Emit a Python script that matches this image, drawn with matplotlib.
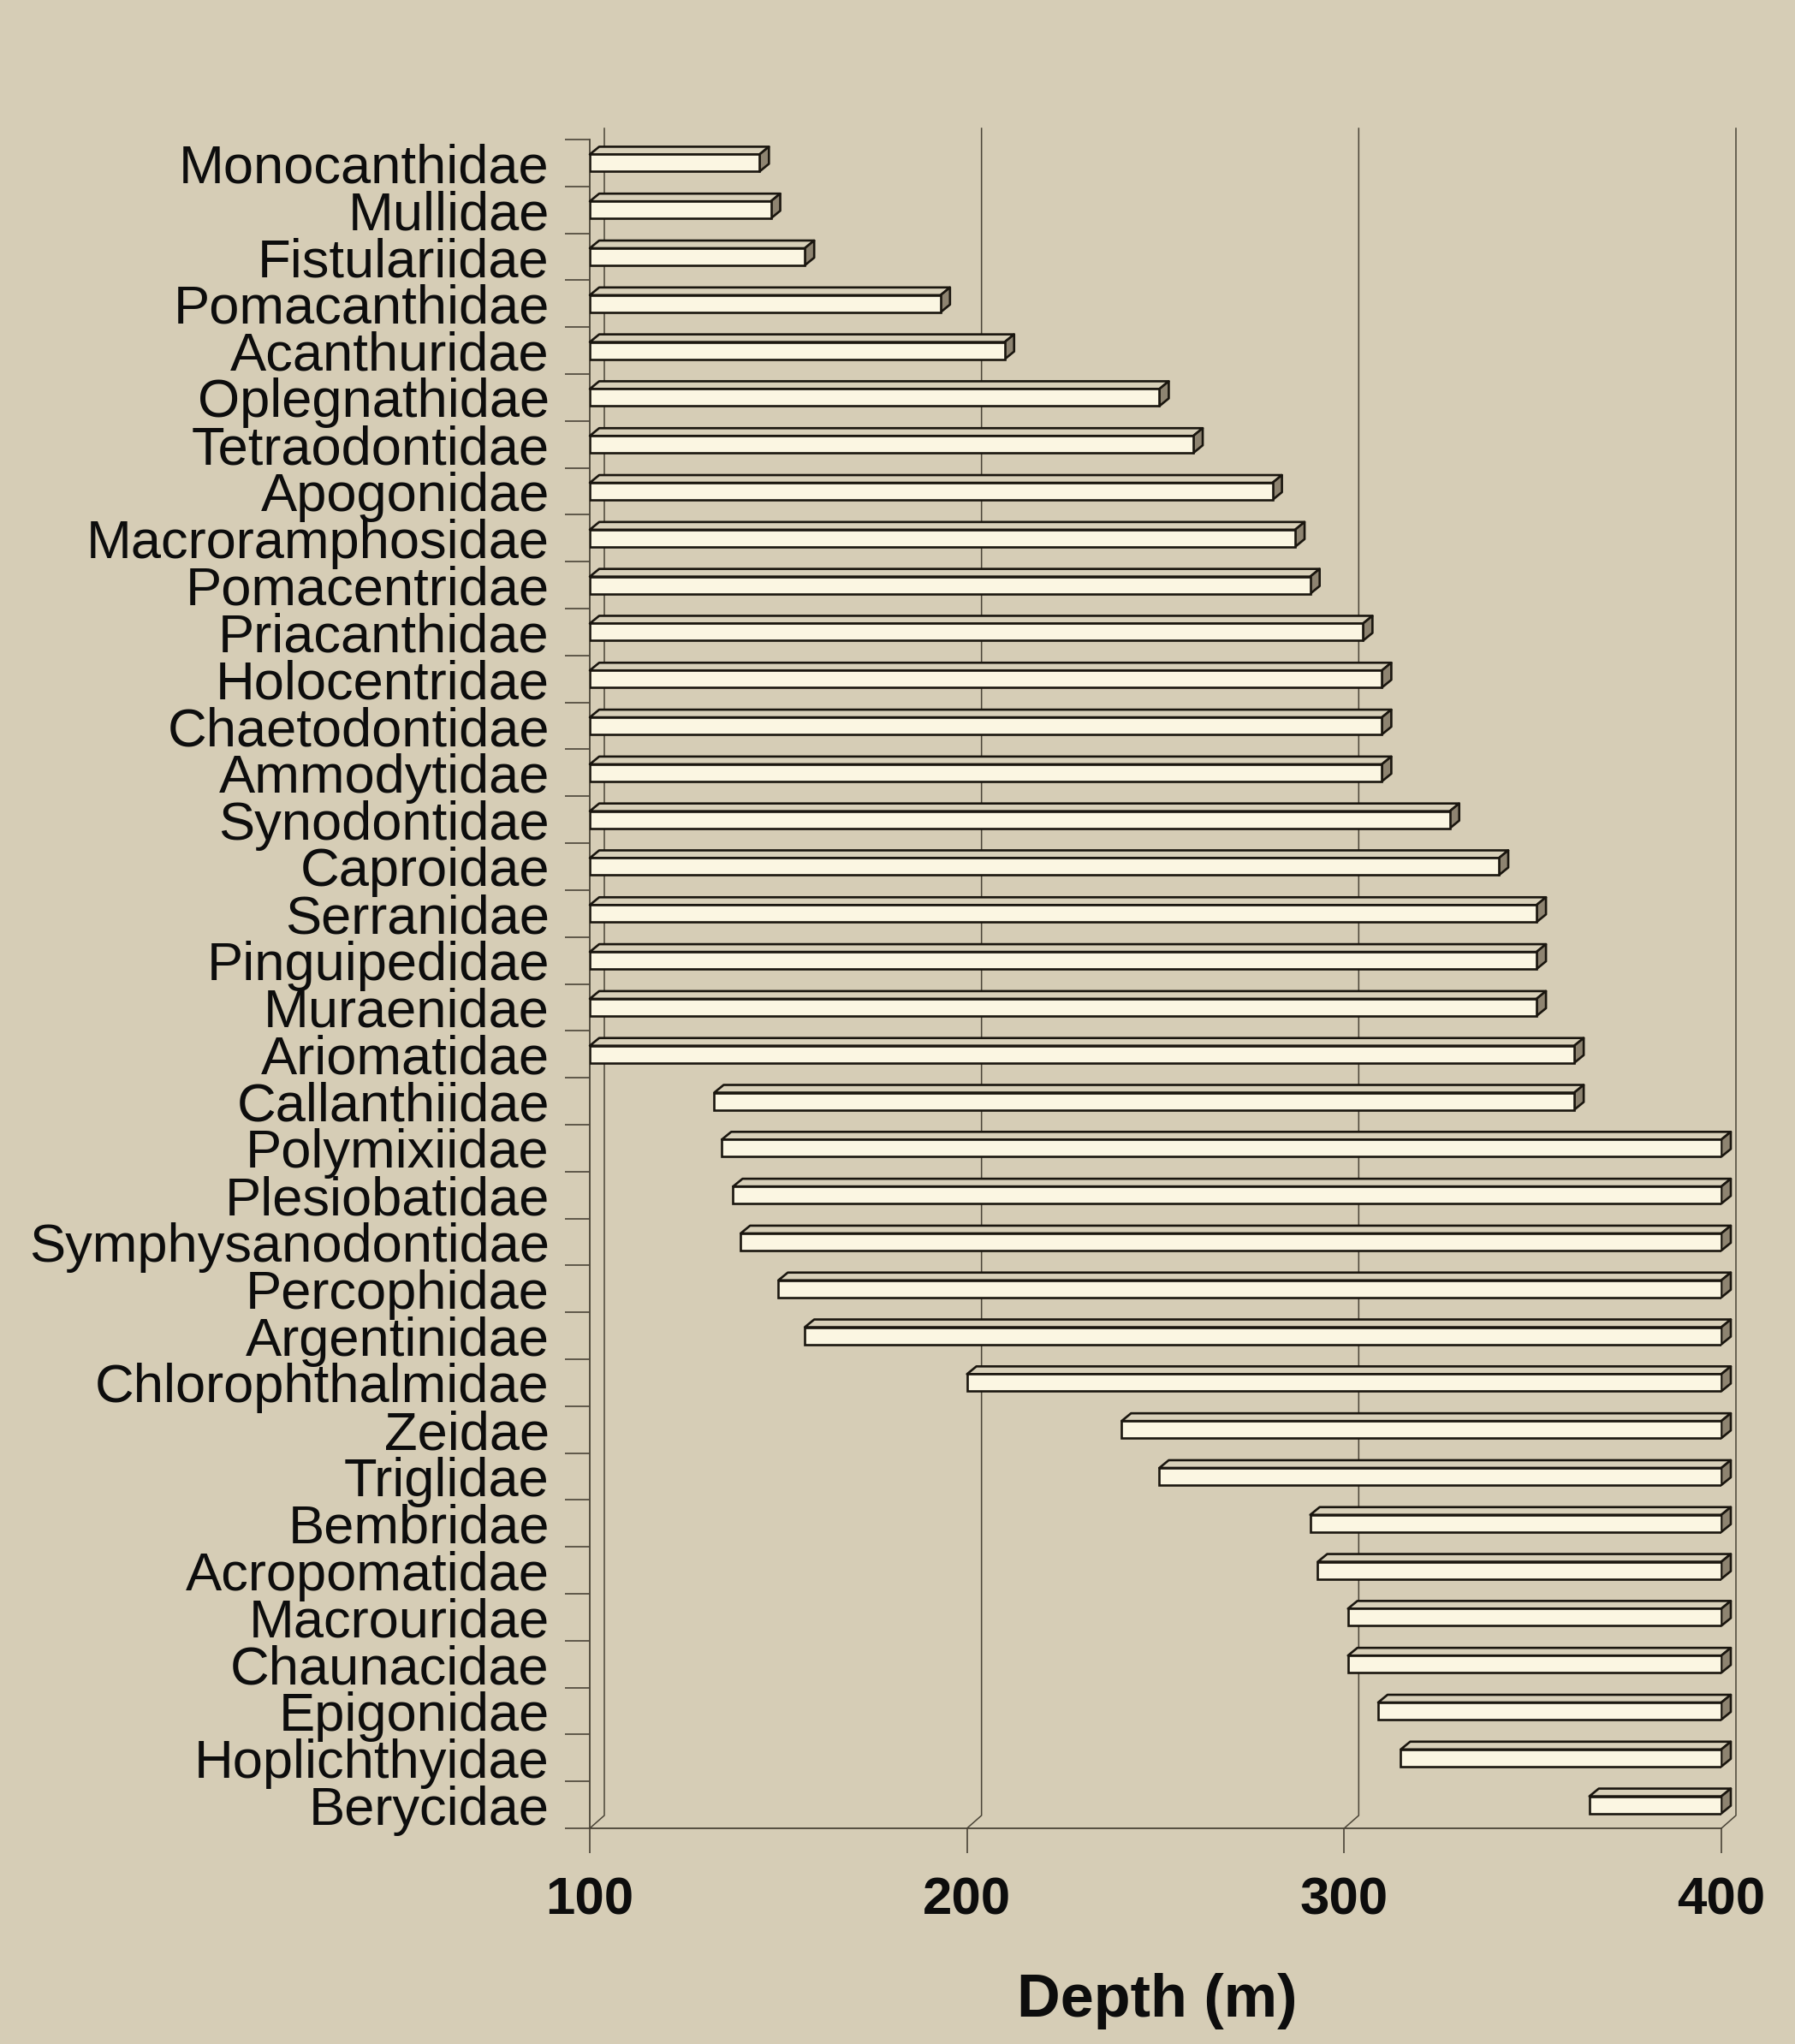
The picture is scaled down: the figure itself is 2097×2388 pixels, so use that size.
import numpy as np
import matplotlib.pyplot as plt
from matplotlib.patches import Polygon

plt.rcParams['font.family'] = ['Liberation Sans', 'DejaVu Sans']

families = ['Monocanthidae', 'Mullidae', 'Fistulariidae', 'Pomacanthidae', 'Acanthuridae',
            'Oplegnathidae', 'Tetraodontidae', 'Apogonidae', 'Macroramphosidae', 'Pomacentridae',
            'Priacanthidae', 'Holocentridae', 'Chaetodontidae', 'Ammodytidae', 'Synodontidae',
            'Caproidae', 'Serranidae', 'Pinguipedidae', 'Muraenidae', 'Ariomatidae',
            'Callanthiidae', 'Polymixiidae', 'Plesiobatidae', 'Symphysanodontidae', 'Percophidae',
            'Argentinidae', 'Chlorophthalmidae', 'Zeidae', 'Triglidae', 'Bembridae',
            'Acropomatidae', 'Macrouridae', 'Chaunacidae', 'Epigonidae', 'Hoplichthyidae',
            'Berycidae']
min_depth = [100, 100, 100, 100, 100, 100, 100, 100, 100, 100,
             100, 100, 100, 100, 100, 100, 100, 100, 100, 100,
             133, 135, 138, 140, 150, 157, 200, 241, 251, 291,
             293, 301, 301, 309, 315, 365]
max_depth = [145, 148, 157, 193, 210, 251, 260, 281, 287, 291,
             305, 310, 310, 310, 328, 341, 351, 351, 351, 361,
             361, 400, 400, 400, 400, 400, 400, 400, 400, 400,
             400, 400, 400, 400, 400, 400]
depth_ticks = [100, 200, 300, 400]

BG = '#d6cdb6'
LINE = '#1a160f'
GRID = '#4a4437'
FRONT = '#fbf6e2'
TOP = '#d8d0b9'
SIDE = '#8e8471'

W, H = 2097, 2388
fig = plt.figure(figsize=(W / 100, H / 100), dpi=100, facecolor=BG)
# axes = front plane of the pseudo 3D box
ax = fig.add_axes([689 / W, (H - 2136) / H, 1322 / W, 1973 / H])
ax.set_facecolor('none')
ax.set_xlim(100, 400)
ax.set_ylim(len(families) - 0.5, -0.5)

# pixel -> data units
ux = 300 / 1322
uy = len(families) / 1973

# back wall gridlines with the slanted floor joint
wdx, wdy = 17 * ux, 15 * uy
y_floor = len(families) - 0.5
y_top = -0.5 - 13 * uy
for v in depth_ticks:
    ax.plot([v, v + wdx, v + wdx], [y_floor, y_floor - wdy, y_top], color=GRID, lw=1.1,
            clip_on=False, zorder=1)

# floating 3D bars
bh = 20 * uy
bdx, bdy = 11 * ux, 9 * uy
for i, (a, b) in enumerate(zip(min_depth, max_depth)):
    yt, yb = i - bh / 2, i + bh / 2
    ax.add_patch(Polygon([(a, yt), (b, yt), (b + bdx, yt - bdy), (a + bdx, yt - bdy)],
                         closed=True, facecolor=TOP, edgecolor=LINE, lw=1.9, zorder=3,
                         clip_on=False, joinstyle='round'))
    ax.add_patch(Polygon([(b, yt), (b, yb), (b + bdx, yb - bdy), (b + bdx, yt - bdy)],
                         closed=True, facecolor=SIDE, edgecolor=LINE, lw=1.9, zorder=3,
                         clip_on=False, joinstyle='round'))
ax.barh(range(len(families)), np.array(max_depth) - np.array(min_depth), left=min_depth,
        height=bh, color=FRONT, edgecolor=LINE, lw=1.9, zorder=4)

for s in ['top', 'right']:
    ax.spines[s].set_visible(False)
for s in ['left', 'bottom']:
    ax.spines[s].set_color(GRID)
    ax.spines[s].set_linewidth(1.3)

ax.set_xticks(depth_ticks, [str(t) for t in depth_ticks], fontsize=44.5, fontweight='bold')
ax.tick_params(axis='x', length=21, width=1.2, color=GRID, pad=20, labelcolor='#0d0d0d')
ax.set_yticks(range(len(families)), families, fontsize=45.5)
ax.set_yticks(np.arange(-0.5, len(families), 1), minor=True)
ax.tick_params(axis='y', which='major', length=0, pad=34, labelcolor='#0d0d0d')
ax.tick_params(axis='y', which='minor', length=21, width=1.2, color=GRID)

ax.set_xlabel('Depth (m)', fontsize=50.5, fontweight='bold', color='#0d0d0d')
ax.xaxis.set_label_coords(0.5015, -0.1024)
ax.xaxis.label.set_va('center')

plt.savefig('out.png', dpi=100, facecolor=BG)
